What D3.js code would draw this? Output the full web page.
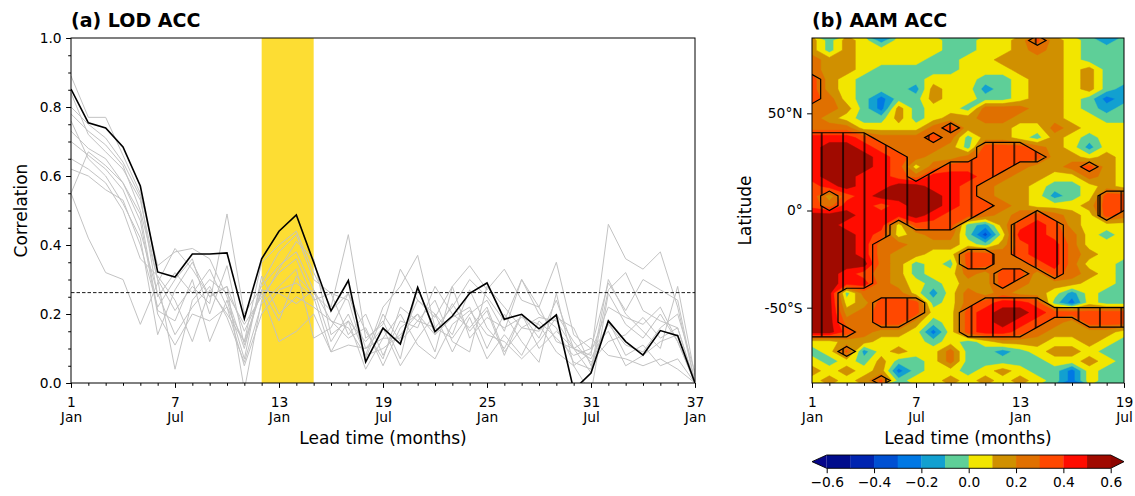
<!DOCTYPE html>
<html>
<head>
<meta charset="utf-8">
<script src="https://cdn.jsdelivr.net/npm/d3@7"></script>
<style>
  body { margin: 0; background: #fff; }
  svg text { font-family: "DejaVu Sans", sans-serif; fill: #000; }
</style>
</head>
<body>
<svg id="chart" width="1135" height="496"></svg>
<script>
// ---- (a) LOD ACC ----
const leadMonths = d3.range(1, 38);
const lodAcc = [0.852, 0.754, 0.739, 0.684, 0.571, 0.322, 0.307, 0.374, 0.374, 0.377,
  0.186, 0.36, 0.44, 0.487, 0.35, 0.209, 0.297, 0.061, 0.159, 0.113,
  0.277, 0.149, 0.194, 0.26, 0.29, 0.185, 0.199, 0.157, 0.197, -0.02,
  0.029, 0.18, 0.12, 0.081, 0.152, 0.137, 0.0];
const lodMembers = [
  [.89, .77, .77, .66, .55, .34, .38, .39, .36, .25, .10, .29, .38, .43, .30, .26, .24, .07, .20, .12, .18, .16, .22, .30, .25, .18, .30, .22, .12, .10, .08, .46, .36, .33, .38, .22, .00],
  [.80, .75, .71, .64, .54, .25, .32, .26, .33, .22, .12, .35, .40, .44, .32, .22, .43, .13, .17, .33, .24, .19, .28, .34, .27, .33, .24, .22, .35, .14, .10, .29, .21, .30, .27, .24, .00],
  [.78, .73, .69, .63, .50, .30, .21, .28, .23, .49, .20, .28, .34, .38, .27, .18, .16, .08, .22, .28, .37, .16, .13, .20, .24, .15, .30, .20, .16, .06, .04, .30, .20, .15, .10, .28, .02],
  [.76, .65, .60, .52, .42, .14, .27, .35, .25, .28, -.02, .24, .33, .41, .36, .14, .18, .04, .13, .13, .24, .20, .14, .27, .16, .10, .20, .13, .24, .10, .03, .27, .32, .21, .18, .16, .00],
  [.73, .68, .65, .58, .47, .20, .11, .20, .18, .22, .05, .20, .27, .29, .25, .09, .18, .12, .18, .07, .28, .14, .19, .22, .10, .20, .12, .06, .26, .05, -.03, .26, .17, .13, .20, .12, .00],
  [.65, .62, .58, .50, .36, .31, .24, .12, .27, .20, .12, .27, .18, .31, .26, .21, .26, .15, .07, .22, .18, .24, .12, .09, .28, .22, .16, .19, .18, .10, .07, .17, .11, .09, .16, .20, .03],
  [.55, .67, .63, .58, .49, .21, .18, .30, .12, .24, .07, .31, .20, .25, .22, .18, .13, .16, .05, .16, .20, .09, .28, .13, .19, .16, .19, .17, .09, .05, .09, .22, .19, .17, .22, .12, .00],
  [.55, .42, .32, .30, .17, .29, .39, .33, .25, .28, .15, .26, .12, .15, .20, .09, .11, .10, .13, .20, .11, .07, .17, .21, .14, .12, .07, .12, .19, .16, .05, .18, .08, .11, .05, .07, .00],
  [.84, .72, .67, .62, .53, .30, .04, .24, .30, .26, .17, .25, .32, .36, .24, .26, .14, .20, .08, .18, .16, .28, .20, .16, .22, .09, .16, .15, .20, .12, .06, .12, .14, .19, .13, .16, .00],
  [.70, .66, .62, .56, .44, .26, .14, .22, .28, .19, .06, .23, .28, .33, .13, .16, .26, .10, .16, .05, .13, .20, .09, .19, .07, .14, .08, .18, .13, .08, .10, .15, .05, .08, .12, .14, .00],
  [.62, .60, .56, .53, .40, .22, .30, .36, .20, .34, .11, .27, .26, .23, .27, .12, .20, .08, .10, .14, .20, .14, .23, .15, .21, .08, .20, .10, .15, .10, .13, .08, .07, .05, .07, .04, .00]
];
const sigLevel = 0.262;
const peakWindow = [12, 15];
const monthTicks = [1, 7, 13, 19, 25, 31, 37];
const monthNames = ['Jan', 'Jul', 'Jan', 'Jul', 'Jan', 'Jul', 'Jan'];
const corrTicks = [0, 0.2, 0.4, 0.6, 0.8, 1.0];

// ---- (b) AAM ACC ----  rows = latitude (north to south), cols = lead 1..19
const aamLeads = d3.range(1, 20);
const aamLats = d3.range(87.5, -90, -5);
const aamAcc = [
  [.15, -.05, .15, .05, -.15, .05, .05, .05, -.05, -.05, .05, .05, .15, .32, .15, .05, -.05, -.15, -.05],
  [.15, -.05, .15, .05, .05, .05, .05, .05, -.05, -.05, .05, .05, .15, .25, .15, .05, -.05, -.05, -.05],
  [.25, .15, .15, .05, .05, .05, .05, -.05, -.05, .05, .05, .15, .15, .15, .15, .05, -.05, -.05, -.05],
  [.25, .15, .15, .05, -.05, -.05, -.05, -.05, -.05, .05, .05, .05, .15, .15, .15, .05, .15, -.05, -.05],
  [.35, .15, .05, -.05, -.05, -.05, -.05, .05, .05, .05, -.05, -.05, .05, .15, .15, .05, .15, -.05, -.05],
  [.35, .15, .05, -.05, -.05, -.05, -.15, .15, .05, .05, -.15, -.05, .05, .15, .15, .05, .15, -.05, -.15],
  [.35, .25, .05, -.05, -.25, -.05, -.05, .15, .05, .05, -.05, -.05, .05, .15, .15, .05, -.05, -.25, -.15],
  [.25, .25, .15, -.05, -.25, .15, -.05, .05, .05, -.05, .25, .25, .25, .15, .15, .05, -.05, -.15, -.05],
  [.25, .15, .05, -.05, -.05, .15, -.05, .05, .15, .15, .25, .25, .15, .15, .15, .05, .05, -.05, -.05],
  [.25, .25, .25, .05, .05, .05, .05, .25, .35, .15, .15, .15, .05, .05, .25, .15, .05, .05, .05],
  [.45, .45, .45, .35, .25, .25, .25, .35, .25, -.05, .15, .15, .05, -.05, .15, .05, -.05, .05, .05],
  [.45, .55, .55, .45, .35, .25, .25, .25, .15, -.05, .35, .35, .35, .25, .15, .05, -.15, .05, .05],
  [.45, .55, .55, .55, .45, .35, .25, .15, .15, .25, .35, .35, .35, .35, .15, .15, .05, .15, .05],
  [.45, .55, .55, .55, .45, .35, .05, .25, .35, .35, .35, .35, .25, .15, .15, .25, .35, .15, .05],
  [.45, .55, .55, .45, .45, .35, .25, .45, .45, .45, .35, .25, .15, .15, .05, .05, .25, .15, .05],
  [.35, .45, .55, .45, .45, .55, .55, .45, .45, .35, .25, .15, .15, .05, -.05, -.05, .05, .15, .05],
  [.35, .15, .35, .45, .55, .55, .55, .55, .45, .35, .25, .15, .15, .05, -.15, -.05, .05, .35, .35],
  [.35, .25, .45, .45, .35, .45, .55, .55, .45, .35, .35, .25, .15, .05, .05, .05, .15, .35, .35],
  [.55, .55, .55, .45, .45, .45, .55, .45, .35, .35, .25, .15, .25, .35, .25, .15, .05, .35, .25],
  [.55, .55, .45, .45, .45, .05, .35, .35, .35, -.05, -.15, .15, .35, .45, .35, .15, .05, .05, .05],
  [.55, .55, .55, .45, .35, .05, .15, .25, .25, -.05, -.35, .05, .45, .45, .35, .25, .05, -.05, .05],
  [.55, .55, .55, .45, .25, .25, .15, .15, .15, .05, -.05, .15, .35, .45, .45, .25, .05, .05, .05],
  [.55, .55, .55, .45, .25, .15, .15, .05, .05, .35, .35, .25, .35, .45, .45, .25, .15, .05, .05],
  [.55, .55, .55, .55, .25, .15, -.05, .05, -.05, .35, .35, .25, .25, .35, .45, .25, .05, .05, -.05],
  [.55, .55, .45, .35, .25, .15, -.05, .05, .05, .25, .15, .35, .35, .15, .35, .25, .15, .05, -.05],
  [.55, .55, .45, .45, .25, .15, .05, -.05, .05, .15, .15, .35, .25, .15, .15, .15, .05, .05, -.05],
  [.55, .55, -.05, .25, .25, .25, .05, -.15, .05, .25, .15, .25, .15, .15, .05, -.15, .05, -.05, -.05],
  [.55, .55, .05, .15, .35, .35, .35, -.05, .05, .25, .35, .45, .45, .35, -.05, -.25, .05, -.05, -.05],
  [.55, .55, .15, .25, .35, .35, .35, .05, .05, .35, .45, .55, .55, .45, .35, .35, .35, .35, .35],
  [.55, .55, .25, .25, .35, .35, .15, -.05, .05, .35, .45, .55, .45, .35, .25, .15, .35, .35, .35],
  [.55, .55, .35, .25, .15, .15, .05, -.25, .05, .35, .45, .45, .35, .25, .15, .15, .15, .15, .05],
  [.05, .05, .15, .15, .05, .05, .05, -.05, .05, -.05, .05, .15, .15, .15, .05, .05, .15, .05, -.05],
  [-.05, .05, .32, -.15, .05, .15, .05, .05, .25, -.05, -.05, -.15, -.05, .05, .15, .15, .05, -.05, -.05],
  [.05, -.05, .05, -.05, .15, -.05, -.05, .05, .25, -.05, -.05, -.05, -.05, -.05, .05, .05, .15, .05, -.05],
  [.15, .05, .15, .05, .15, -.25, -.05, .05, .05, -.05, .05, .15, .05, -.05, -.05, -.25, .05, -.05, -.05],
  [.05, .15, .05, .15, .32, -.05, .05, .05, .15, .05, .15, .05, .15, .05, -.05, -.25, .05, -.05, -.05]
];
const aamSig = 0.3;
const leadTicksB = [1, 7, 13, 19];
const leadNamesB = ['Jan', 'Jul', 'Jan', 'Jul'];
const latTicks = [50, 0, -50];
const latNames = ['50°N', '0°', '-50°S'];
const accLevels = [-0.6, -0.5, -0.4, -0.3, -0.2, -0.1, 0.0, 0.1, 0.2, 0.3, 0.4, 0.5, 0.6];
const accColors = ['#000c8c', '#0024b0', '#0050d2', '#0078e4', '#12a0d0', '#5ecf98',
  '#f2e600', '#d09000', '#e07000', '#ff4800', '#ff0c00', '#a00a00'];
const accUnder = '#06068a';
const accOver = '#8e0500';
const cbTicks = [-0.6, -0.4, -0.2, 0.0, 0.2, 0.4, 0.6];

const svg = d3.select('#chart');
const defs = svg.append('defs');
const tickFont = '13.8px', labelFont = '17px', titleFont = '19px';

function styleText(sel, size) {
  return sel.style('font-size', size).style('font-family', '"DejaVu Sans", sans-serif').attr('fill', '#000');
}

// bottom axis with number + month labels and monthly minor ticks
function leadAxis(g, x, y0, major, names, last) {
  g.append('g').attr('transform', `translate(0,${y0})`)
    .call(d3.axisBottom(x).tickValues(d3.range(1, last + 1)).tickSize(2.8).tickFormat('').tickSizeOuter(0))
    .call(a => a.select('.domain').remove());
  const ax = g.append('g').attr('transform', `translate(0,${y0})`)
    .call(d3.axisBottom(x).tickValues(major).tickSize(4.9).tickFormat('').tickSizeOuter(0))
    .call(a => a.select('.domain').remove());
  ax.selectAll('.tick').each(function(d, i) {
    const t = d3.select(this);
    styleText(t.append('text').attr('y', 24).attr('text-anchor', 'middle').text(d), tickFont);
    styleText(t.append('text').attr('y', 39).attr('text-anchor', 'middle').text(names[i]), tickFont);
  });
  g.selectAll('.tick line').attr('stroke', '#000').attr('stroke-width', 1);
}

// ---------------- panel (a) ----------------
const xA = d3.scaleLinear().domain([1, 37]).range([71, 695]);
const yA = d3.scaleLinear().domain([0, 1]).range([383, 38]);
defs.append('clipPath').attr('id', 'clipA').append('rect')
  .attr('x', 71).attr('y', 38).attr('width', 624).attr('height', 345);

const gA = svg.append('g');
gA.append('rect')
  .attr('x', xA(peakWindow[0])).attr('width', xA(peakWindow[1]) - xA(peakWindow[0]))
  .attr('y', yA(1)).attr('height', yA(0) - yA(1))
  .attr('fill', '#fddd33');

const lineA = d3.line().x((d, i) => xA(leadMonths[i])).y(d => yA(d));
const plotA = gA.append('g').attr('clip-path', 'url(#clipA)');
plotA.selectAll('path.member').data(lodMembers).join('path')
  .attr('class', 'member')
  .attr('d', lineA)
  .attr('fill', 'none').attr('stroke', '#c3c3c3').attr('stroke-width', 1);
plotA.append('line')
  .attr('x1', xA(1)).attr('x2', xA(37)).attr('y1', yA(sigLevel)).attr('y2', yA(sigLevel))
  .attr('stroke', '#000').attr('stroke-width', 0.9).attr('stroke-dasharray', '3.5,2');
plotA.append('path').datum(lodAcc)
  .attr('d', lineA)
  .attr('fill', 'none').attr('stroke', '#000').attr('stroke-width', 1.6);

// y axis
gA.append('g').attr('transform', 'translate(71,0)')
  .call(d3.axisLeft(yA).tickValues(d3.range(0, 1.001, 0.05)).tickSize(2.8).tickFormat('').tickSizeOuter(0))
  .call(a => a.select('.domain').remove());
const yAxA = gA.append('g').attr('transform', 'translate(71,0)')
  .call(d3.axisLeft(yA).tickValues(corrTicks).tickSize(4.9).tickPadding(4.5).tickFormat(d3.format('.1f')).tickSizeOuter(0))
  .call(a => a.select('.domain').remove());
styleText(yAxA.selectAll('text'), tickFont);
gA.selectAll('.tick line').attr('stroke', '#000').attr('stroke-width', 1);
leadAxis(gA, xA, 383, monthTicks, monthNames, 37);

gA.append('rect').attr('x', 71).attr('y', 38).attr('width', 624).attr('height', 345)
  .attr('fill', 'none').attr('stroke', '#000').attr('stroke-width', 1);
styleText(gA.append('text').attr('x', 383).attr('y', 444).attr('text-anchor', 'middle').text('Lead time (months)'), labelFont);
styleText(gA.append('text').attr('transform', 'translate(27,210.5) rotate(-90)').attr('text-anchor', 'middle').text('Correlation'), labelFont);
styleText(gA.append('text').attr('x', 71).attr('y', 27).text('(a) LOD ACC'), titleFont).style('font-weight', 'bold');

// ---------------- panel (b) ----------------
const xB = d3.scaleLinear().domain([1, 19]).range([812, 1124]);
const yB = d3.scaleLinear().domain([-88.75, 88.75]).range([383, 38]);
defs.append('clipPath').attr('id', 'clipB').append('rect')
  .attr('x', 812).attr('y', 38).attr('width', 312).attr('height', 345);

const nx = aamLeads.length, ny = aamLats.length;
const latStep = aamLats[0] - aamLats[1];
const gridToPlot = d3.geoTransform({
  point: function(px, py) {
    this.stream.point(xB(aamLeads[0] + px - 0.5), yB(aamLats[0] - (py - 0.5) * latStep));
  }
});
const gridPath = d3.geoPath(gridToPlot);
const field = aamAcc.flat();

const gB = svg.append('g');
const plotB = gB.append('g').attr('clip-path', 'url(#clipB)');
const bands = d3.contours().size([nx, ny])
  .thresholds([-1].concat(accLevels.slice(1, 12)))(field);
plotB.selectAll('path.band').data(bands).join('path')
  .attr('class', 'band')
  .attr('d', gridPath)
  .attr('fill', (d, i) => accColors[i])
  .attr('stroke', (d, i) => accColors[i]).attr('stroke-width', 0.5);

// significance hatching
const hatch = defs.append('pattern').attr('id', 'hatch')
  .attr('patternUnits', 'userSpaceOnUse').attr('x', 811).attr('y', 0)
  .attr('width', 21.4).attr('height', 10);
hatch.append('line').attr('x1', 10.7).attr('x2', 10.7).attr('y1', 0).attr('y2', 10)
  .attr('stroke', '#000').attr('stroke-width', 1.4);
const sig = d3.contours().size([nx, ny]).smooth(false).thresholds([aamSig])(field);
plotB.selectAll('path.sig').data(sig).join('path')
  .attr('class', 'sig')
  .attr('d', gridPath)
  .attr('fill', 'url(#hatch)')
  .attr('stroke', '#000').attr('stroke-width', 1.2).attr('stroke-linejoin', 'miter');

const yAxB = gB.append('g').attr('transform', 'translate(812,0)')
  .call(d3.axisLeft(yB).tickValues(latTicks).tickSize(4.9).tickPadding(4.5)
    .tickFormat((d, i) => latNames[i]).tickSizeOuter(0))
  .call(a => a.select('.domain').remove());
styleText(yAxB.selectAll('text'), tickFont);
gB.selectAll('.tick line').attr('stroke', '#000').attr('stroke-width', 1);
leadAxis(gB, xB, 383, leadTicksB, leadNamesB, 19);

gB.append('rect').attr('x', 812).attr('y', 38).attr('width', 312).attr('height', 345)
  .attr('fill', 'none').attr('stroke', '#000').attr('stroke-width', 1);
styleText(gB.append('text').attr('x', 968).attr('y', 444).attr('text-anchor', 'middle').text('Lead time (months)'), labelFont);
styleText(gB.append('text').attr('transform', 'translate(751,210.5) rotate(-90)').attr('text-anchor', 'middle').text('Latitude'), labelFont);
styleText(gB.append('text').attr('x', 812).attr('y', 27).text('(b) AAM ACC'), titleFont).style('font-weight', 'bold');

// colorbar
const cbX = d3.scaleLinear().domain([-0.6, 0.6]).range([826.7, 1110.7]);
const cbTop = 455, cbBot = 468.3, cbMid = (cbTop + cbBot) / 2;
const gC = svg.append('g');
gC.selectAll('rect.cb').data(accLevels.slice(0, -1)).join('rect')
  .attr('class', 'cb')
  .attr('x', d => cbX(d)).attr('width', (d, i) => cbX(accLevels[i + 1]) - cbX(d) + 0.3)
  .attr('y', cbTop).attr('height', cbBot - cbTop)
  .attr('fill', (d, i) => accColors[i]);
gC.append('path')
  .attr('d', `M${cbX(-0.6)},${cbTop}L812,${cbMid}L${cbX(-0.6)},${cbBot}Z`).attr('fill', accUnder);
gC.append('path')
  .attr('d', `M${cbX(0.6)},${cbTop}L1124,${cbMid}L${cbX(0.6)},${cbBot}Z`).attr('fill', accOver);
gC.append('path')
  .attr('d', `M${cbX(-0.6)},${cbTop}L${cbX(0.6)},${cbTop}L1124,${cbMid}L${cbX(0.6)},${cbBot}L${cbX(-0.6)},${cbBot}L812,${cbMid}Z`)
  .attr('fill', 'none').attr('stroke', '#000').attr('stroke-width', 0.9);
const cbAx = gC.append('g').attr('transform', `translate(0,${cbBot})`)
  .call(d3.axisBottom(cbX).tickValues(cbTicks).tickSize(4.9).tickPadding(4.5).tickFormat(d3.format('.1f')).tickSizeOuter(0))
  .call(a => a.select('.domain').remove());
cbAx.selectAll('.tick line').attr('stroke', '#000').attr('stroke-width', 1);
styleText(cbAx.selectAll('text'), tickFont);
</script>
</body>
</html>
